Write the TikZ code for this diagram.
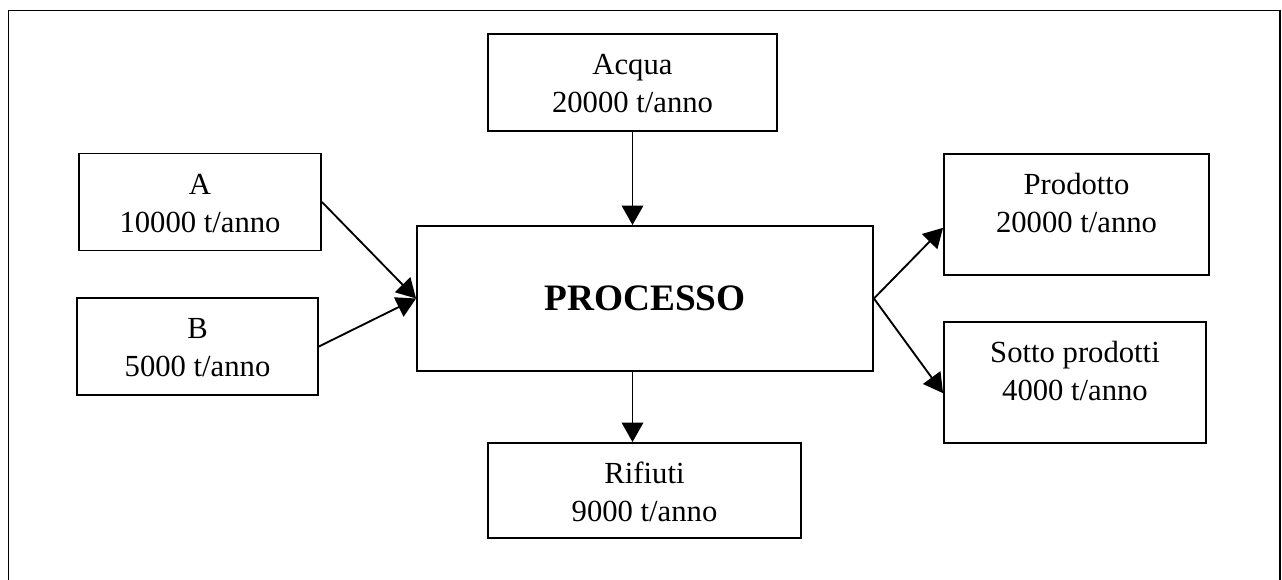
\documentclass[tikz,border=0pt]{standalone}
\usepackage{fontspec}
\setmainfont{Liberation Serif}
\usetikzlibrary{arrows.meta}

\tikzset{every picture/.style={line width=1.4pt}}
\tikzset{
  flowbox/.style={draw, inner xsep=0pt, inner ysep=0pt, align=center,
    font=\fontsize{23}{28.5}\selectfont, text height=59.25pt},
  lowbox/.style={flowbox, text depth=13.5pt},
  tallbox/.style={flowbox, text depth=31.5pt},
  flow/.style={-{Triangle[length=14.5pt,width=16pt]}}
}

\begin{document}
\begin{tikzpicture}[x=0.75pt,y=0.75pt,yscale=-1,xscale=1]
\useasboundingbox (0,0) rectangle (1282,580);

%Frame
\draw (8.5,582) -- (8.5,10.5) -- (1280,10.5) -- (1280,582);

%Shape: Rectangle
\node (acqua) at (632.5,82.5) [lowbox, minimum width=216.75pt] {Acqua\\20000 t/anno};
%Shape: Rectangle
\node (a) at (200,202) [lowbox, minimum width=181.5pt] {A\\10000 t/anno};
%Shape: Rectangle
\node (b) at (197.5,346.5) [lowbox, minimum width=180.75pt] {B\\5000 t/anno};
%Shape: Rectangle
\node (proc) at (645,298.5) [draw, minimum width=342pt, minimum height=108.75pt,
  font=\fontsize{28}{33}\selectfont\bfseries] {PROCESSO};
%Shape: Rectangle
\node (prod) at (1076.5,214.5) [tallbox, minimum width=198.75pt] {Prodotto\\20000 t/anno};
%Shape: Rectangle
\node (sotto) at (1075,382.5) [tallbox, minimum width=196.5pt] {Sotto prodotti\\4000 t/anno};
%Shape: Rectangle
\node (rif) at (644.5,490.5) [flowbox, text depth=12pt, minimum width=234.75pt] {Rifiuti\\9000 t/anno};

%Straight Lines
\draw [flow] (acqua.south) -- (acqua.south |- proc.north);
\draw [flow] (a.east) -- (proc.west);
\draw [flow] (b.east) -- (proc.west);
\draw [flow] (proc.east) -- ([yshift=10pt]prod.west);
\draw [flow] (proc.east) -- ([yshift=8pt]sotto.west);
\draw [flow] (acqua.south |- proc.south) -- (acqua.south |- rif.north);

\end{tikzpicture}
\end{document}
